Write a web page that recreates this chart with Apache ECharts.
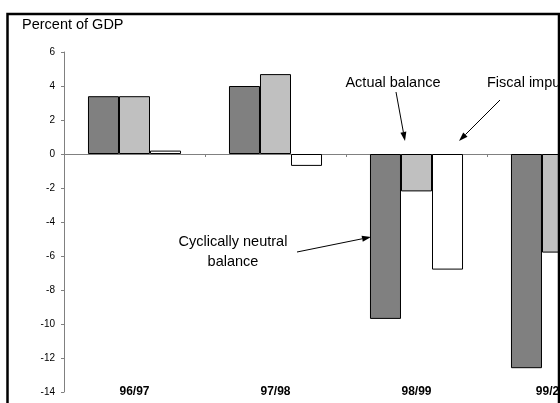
<!DOCTYPE html>
<html>
<head>
<meta charset="utf-8">
<script src="https://cdn.jsdelivr.net/npm/echarts@6/dist/echarts.min.js"></script>
<style>
  html, body { margin: 0; padding: 0; background: #fff; overflow: hidden; width: 560px; height: 403px; }
  #chart { width: 640px; height: 403px; }
</style>
</head>
<body>
<div id="chart"></div>
<script>
// Fiscal stance by fiscal year, percent of GDP
const categories = ['96/97', '97/98', '98/99', '99/2000'];
const cyclicallyNeutral = [3.4, 4.0, -9.7, -12.6];
const actualBalance = [3.4, 4.7, -2.2, -5.8];
const fiscalImpulse = [0.2, -0.7, -6.8, null];
const yTicks = { min: -14, max: 6, step: 2 };

const FONT = '"Liberation Sans", Arial, sans-serif';

// Straight line with a filled arrowhead at (x2, y2)
function arrow(x1, y1, x2, y2) {
  const ang = Math.atan2(y2 - y1, x2 - x1);
  const len = 9, half = 3;
  const bx = x2 - len * Math.cos(ang), by = y2 - len * Math.sin(ang);
  const px = -Math.sin(ang) * half, py = Math.cos(ang) * half;
  return [
    { type: 'line', shape: { x1: x1, y1: y1, x2: bx, y2: by },
      style: { stroke: '#000', lineWidth: 1 }, z: 100 },
    { type: 'polygon', shape: { points: [[x2, y2], [bx + px, by + py], [bx - px, by - py]] },
      style: { fill: '#000' }, z: 100 }
  ];
}

const barStyle = (fill) => ({ color: fill, borderColor: '#000', borderWidth: 1 });

const chart = echarts.init(document.getElementById('chart'), null, { renderer: 'canvas' });
chart.setOption({
  animation: false,
  backgroundColor: '#fff',
  grid: { left: 64, top: 52, width: 564, height: 340, containLabel: false },
  xAxis: [
    {
      type: 'category',
      data: categories,
      axisLine: { onZero: true, lineStyle: { color: '#808080', width: 1 } },
      axisTick: { show: true, length: 3, lineStyle: { color: '#808080' } },
      axisLabel: { show: false },
      splitLine: { show: false }
    },
    {
      type: 'category',
      data: categories,
      position: 'bottom',
      axisLine: { show: false, onZero: false },
      axisTick: { show: false },
      axisLabel: {
        show: true, margin: 0, verticalAlign: 'middle',
        fontFamily: FONT, fontSize: 12, fontWeight: 'bold', color: '#000'
      }
    }
  ],
  yAxis: {
    type: 'value',
    min: yTicks.min, max: yTicks.max, interval: yTicks.step,
    axisLine: { show: true, lineStyle: { color: '#808080', width: 1 } },
    axisTick: { show: true, length: 3, lineStyle: { color: '#808080' } },
    axisLabel: { margin: 9, fontFamily: FONT, fontSize: 10, color: '#000' },
    splitLine: { show: false }
  },
  series: [
    { name: 'Cyclically neutral balance', type: 'bar', data: cyclicallyNeutral,
      barGap: '0%', barCategoryGap: '34%', itemStyle: barStyle('#808080') },
    { name: 'Actual balance', type: 'bar', data: actualBalance,
      barGap: '0%', barCategoryGap: '34%', itemStyle: barStyle('#c0c0c0') },
    { name: 'Fiscal impulse', type: 'bar', data: fiscalImpulse,
      barGap: '0%', barCategoryGap: '34%', itemStyle: barStyle('#ffffff') }
  ],
  graphic: [
    { type: 'text', left: 22, top: 17,
      style: { text: 'Percent of GDP', font: '14.5px ' + FONT, fill: '#000' } },
    { type: 'text', x: 393, y: 83,
      style: { text: 'Actual balance', font: '14.5px ' + FONT, fill: '#000',
               align: 'center', verticalAlign: 'middle' } },
    { type: 'text', x: 487, y: 83,
      style: { text: 'Fiscal impulse', font: '14.5px ' + FONT, fill: '#000',
               align: 'left', verticalAlign: 'middle' } },
    { type: 'text', x: 233, y: 252,
      style: { text: 'Cyclically neutral\nbalance', font: '14.5px ' + FONT, fill: '#000',
               align: 'center', verticalAlign: 'middle', lineHeight: 20 } },
    ...arrow(396, 92, 405, 141),
    ...arrow(500, 100, 459, 141),
    ...arrow(297, 252, 371, 237),
    // outer frame; its right edge sits at the visible page edge
    { type: 'rect', shape: { x: 7.5, y: 14, width: 551.5, height: 420 },
      style: { fill: 'none', stroke: '#000', lineWidth: 2.5 }, z: 200 },
    // blank out everything past the frame
    { type: 'rect', shape: { x: 560, y: 0, width: 80, height: 403 },
      style: { fill: '#fff' }, z: 190 }
  ]
});
</script>
</body>
</html>
